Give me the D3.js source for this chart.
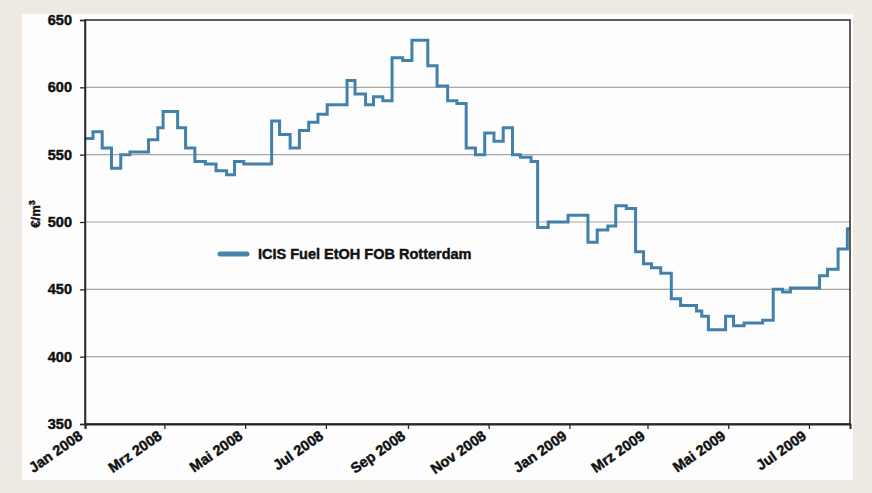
<!DOCTYPE html>
<html>
<head>
<meta charset="utf-8">
<script src="https://cdn.jsdelivr.net/npm/d3@7"></script>
<style>
  html, body { margin: 0; padding: 0; background: #efebe4; }
  svg { display: block; }
  text { font-family: "Liberation Sans", Arial, sans-serif; font-weight: bold; fill: #111;
         stroke: #111; stroke-width: 0.45px; paint-order: stroke; }
</style>
</head>
<body>
<svg id="chart" width="872" height="493"></svg>
<script>
// ---- data ----
const stepDates = [
  "2008-01-01","2008-01-07","2008-01-14","2008-01-21","2008-01-28","2008-02-04","2008-02-18","2008-02-25",
  "2008-02-29","2008-03-11","2008-03-17","2008-03-24","2008-04-01","2008-04-09","2008-04-17","2008-04-23",
  "2008-04-30","2008-05-21","2008-05-27","2008-06-04","2008-06-11","2008-06-18","2008-06-25","2008-07-02",
  "2008-07-17","2008-07-23","2008-07-31","2008-08-06","2008-08-13","2008-08-20","2008-08-28","2008-09-04",
  "2008-09-16","2008-09-23","2008-10-01","2008-10-08","2008-10-15","2008-10-22","2008-10-29","2008-11-05",
  "2008-11-12","2008-11-19","2008-11-25","2008-12-03","2008-12-08","2008-12-16","2008-12-31","2009-01-15",
  "2009-01-22","2009-01-30","2009-02-05","2009-02-13","2009-02-20","2009-02-26","2009-03-04","2009-03-11",
  "2009-03-19","2009-03-26","2009-04-07","2009-04-11","2009-04-16","2009-04-29","2009-05-05","2009-05-13",
  "2009-05-27","2009-06-04","2009-06-11","2009-06-17","2009-07-09","2009-07-15","2009-07-23","2009-07-30",
  "2009-08-01"
];
const stepValues = [
  562,567,555,540,550,552,561,570,
  582,570,555,545,543,538,535,545,
  543,575,565,555,568,574,580,587,
  605,595,587,593,590,622,620,635,
  616,601,590,588,555,550,566,560,
  570,550,548,545,496,500,505,485,
  494,497,512,510,478,469,466,462,
  443,438,434,430,420,430,423,425,
  427,450,448,451,460,465,480,495,
  495
];
const tickDates = ["2008-01-01","2008-03-01","2008-05-01","2008-07-01","2008-09-01","2008-11-01",
                   "2009-01-01","2009-03-01","2009-05-01","2009-07-01"];
const tickLabels = ["Jan 2008","Mrz 2008","Mai 2008","Jul 2008","Sep 2008","Nov 2008",
                    "Jan 2009","Mrz 2009","Mai 2009","Jul 2009"];
const yTicks = [350,400,450,500,550,600,650];
const seriesName = "ICIS Fuel EtOH FOB Rotterdam";
const yTitleBase = "€/m";
const yTitleSup = "3";

// ---- chart ----
const parse = d3.utcParse("%Y-%m-%d");
const data = stepDates.map((d, i) => ({ date: parse(d), value: stepValues[i] }));
const svg = d3.select("#chart");

const L = 85, R = 850, T = 20, B = 424;
const x = d3.scaleUtc().domain([parse("2008-01-01"), parse("2009-08-01")]).range([L, R]);
const y = d3.scaleLinear().domain([350, 650]).range([B, T]);

// white panel
svg.append("rect").attr("x", 22).attr("y", 14).attr("width", 831).attr("height", 466).attr("fill", "#fdfdfe");

// gridlines
svg.append("g").selectAll("line").data(yTicks.filter(v => v > 350 && v < 650)).join("line")
  .attr("x1", L).attr("x2", R)
  .attr("y1", d => y(d)).attr("y2", d => y(d))
  .attr("stroke", "#a8a4a2").attr("stroke-width", 1.2);

// line
const line = d3.line().x(d => x(d.date)).y(d => y(d.value)).curve(d3.curveStepAfter);
svg.append("path").datum(data).attr("d", line)
  .attr("fill", "none").attr("stroke", "#4281aa").attr("stroke-width", 3).attr("stroke-linejoin", "miter");

// frame
svg.append("rect").attr("x", L).attr("y", T).attr("width", R - L).attr("height", B - T)
  .attr("fill", "none").attr("stroke", "#2a2622").attr("stroke-width", 1.5);

// y axis
const yAxis = svg.append("g").attr("transform", `translate(${L},0)`)
  .call(d3.axisLeft(y).tickValues(yTicks).tickSize(5).tickPadding(8).tickFormat(d3.format("d")));
yAxis.select(".domain").attr("stroke", "#2a2622").attr("stroke-width", 1.5);
yAxis.selectAll(".tick line").attr("stroke", "#2a2622").attr("stroke-width", 1.3);
yAxis.selectAll("text").attr("font-size", 14.5).attr("font-family", "Liberation Sans, Arial, sans-serif")
  .attr("font-weight", "bold").attr("fill", "#111");

// x axis
const xAxis = svg.append("g").attr("transform", `translate(0,${B})`)
  .call(d3.axisBottom(x).tickValues(tickDates.map(parse)).tickSize(5)
    .tickFormat((d, i) => tickLabels[i]));
xAxis.select(".domain").attr("stroke", "#2a2622").attr("stroke-width", 2);
xAxis.selectAll(".tick line").attr("stroke", "#2a2622").attr("stroke-width", 1.3);
xAxis.selectAll("text")
  .attr("font-size", 14.5).attr("font-family", "Liberation Sans, Arial, sans-serif")
  .attr("font-weight", "bold").attr("fill", "#111")
  .attr("text-anchor", "end").attr("dy", null).attr("y", 0)
  .attr("transform", "translate(-2,14) rotate(-35)");

// y title
const yt = svg.append("text").attr("transform", "translate(40,214) rotate(-90)")
  .attr("text-anchor", "middle").attr("font-size", 13);
yt.append("tspan").text(yTitleBase);
yt.append("tspan").attr("font-size", 9).attr("dy", -5).text(yTitleSup);

// legend
svg.append("line").attr("x1", 220).attr("x2", 247).attr("y1", 254).attr("y2", 254)
  .attr("stroke", "#4a84ab").attr("stroke-width", 5).attr("stroke-linecap", "round");
svg.append("text").attr("x", 258).attr("y", 259).attr("font-size", 14.5).text(seriesName);
</script>
</body>
</html>
